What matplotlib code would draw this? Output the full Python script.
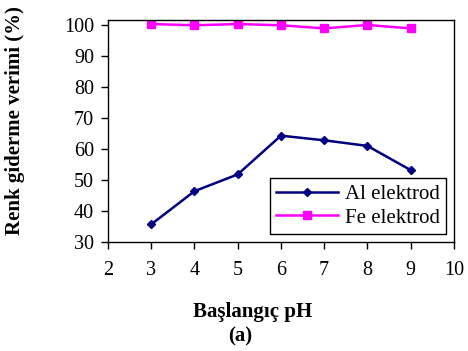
import matplotlib
matplotlib.use('Agg')
import matplotlib.pyplot as plt

# pH values and colour removal efficiency (%)
ph = [3, 4, 5, 6, 7, 8, 9]
al_verim = [35.7, 46.4, 51.8, 64.3, 62.8, 61.0, 53.2]
fe_verim = [100.3, 99.9, 100.3, 99.9, 98.9, 100.0, 98.9]

x_ticks = [2, 3, 4, 5, 6, 7, 8, 9, 10]
y_ticks = [30, 40, 50, 60, 70, 80, 90, 100]

plt.rcParams['font.family'] = ['Liberation Serif', 'DejaVu Serif']

fig = plt.figure(figsize=(4.68, 3.51), dpi=100)
ax = fig.add_axes([0.2308, 0.3105, 0.739, 0.6325])

ax.plot(ph, al_verim, color='#000080', lw=1.8, marker='D', ms=4.5,
        label='Al elektrod')
ax.plot(ph, fe_verim, color='#FF00FF', lw=1.8, marker='s', ms=6,
        label='Fe elektrod')

ax.set_xlim(2, 10)
ax.set_ylim(30, 101.6)
ax.set_xticks(x_ticks)
ax.set_yticks(y_ticks)
ax.tick_params(direction='out', length=5, width=1, labelsize=14.5, pad=5)
ax.tick_params(axis='x', pad=9)
for s in ax.spines.values():
    s.set_linewidth(1)

ax.set_ylabel('Renk giderme verimi (%)', fontsize=15, fontweight='bold')
ax.yaxis.set_label_coords(-0.24, 0.545)
fig.text(0.54, 0.11, 'Başlangıç pH', fontsize=15, fontweight='bold',
         ha='center', va='center')
fig.text(0.513, 0.04, '(a)', fontsize=15, fontweight='bold',
         ha='center', va='center')

leg = ax.legend(loc='lower right', bbox_to_anchor=(0.977, 0.036),
                fontsize=15, frameon=True, fancybox=False, edgecolor='black',
                framealpha=1, handlelength=3.0, borderpad=0.3,
                labelspacing=0.2, handletextpad=0.3, borderaxespad=0)
leg.get_frame().set_linewidth(1)

fig.savefig('out.png', dpi=100)
